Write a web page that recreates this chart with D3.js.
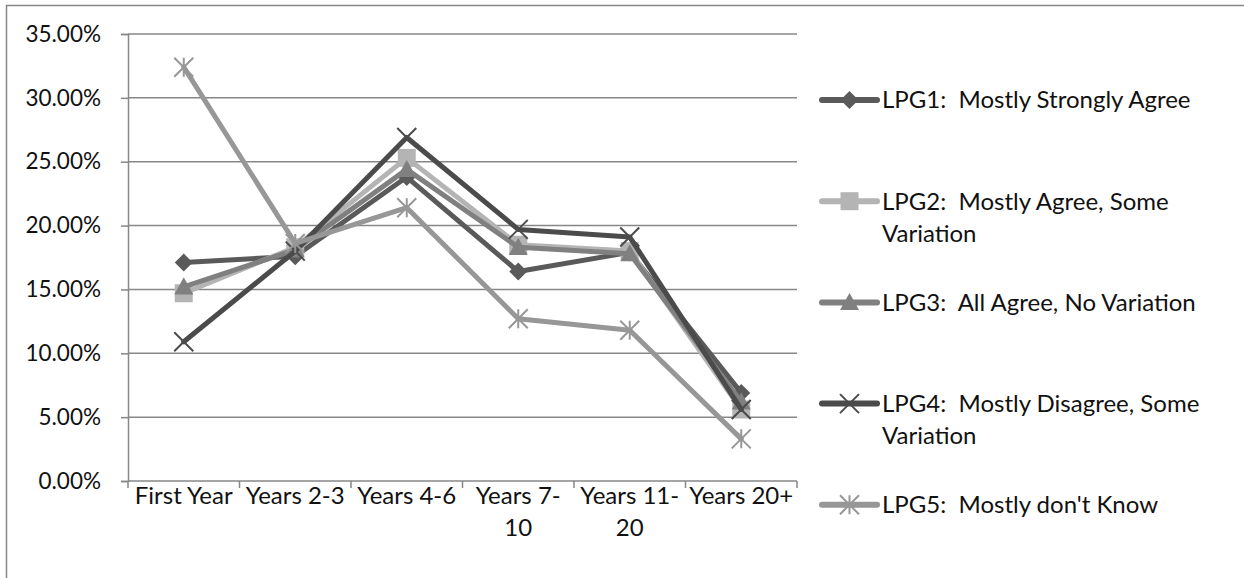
<!DOCTYPE html>
<html>
<head>
<meta charset="utf-8">
<script src="https://cdn.jsdelivr.net/npm/d3@7"></script>
<style>
  html, body { margin: 0; padding: 0; background: #fff; }
  svg { display: block; }
  text { font-family: Lato, "Open Sans", sans-serif; fill: #111; white-space: pre; }
</style>
</head>
<body>
<svg id="chart" width="1244" height="578"></svg>
<script>
// Share of respondents by years of experience, per LPG group
const categories = ["First Year", "Years 2-3", "Years 4-6", "Years 7-10", "Years 11-20", "Years 20+"];
const categoryLines = [["First Year"], ["Years 2-3"], ["Years 4-6"], ["Years 7-", "10"], ["Years 11-", "20"], ["Years 20+"]];

const seriesNames = [
  "LPG1:  Mostly Strongly Agree",
  "LPG2:  Mostly Agree, Some Variation",
  "LPG3:  All Agree, No Variation",
  "LPG4:  Mostly Disagree, Some Variation",
  "LPG5:  Mostly don't Know"
];
const legendLines = [
  ["LPG1:  Mostly Strongly Agree"],
  ["LPG2:  Mostly Agree, Some", "Variation"],
  ["LPG3:  All Agree, No Variation"],
  ["LPG4:  Mostly Disagree, Some", "Variation"],
  ["LPG5:  Mostly don't Know"]
];

const lpg1 = [17.1, 17.6, 23.8, 16.4, 17.9, 6.9];
const lpg2 = [14.7, 18.3, 25.3, 18.5, 18.0, 5.6];
const lpg3 = [15.2, 18.1, 24.4, 18.3, 17.8, 6.2];
const lpg4 = [10.9, 18.0, 26.9, 19.7, 19.1, 5.6];
const lpg5 = [32.4, 18.6, 21.4, 12.7, 11.8, 3.3];

const yTicks = [0, 5, 10, 15, 20, 25, 30, 35];

const seriesValues = [lpg1, lpg2, lpg3, lpg4, lpg5];
const colors = ["#5a5a5a", "#b4b4b4", "#808080", "#4b4b4b", "#979797"];
const markers = ["diamond", "square", "triangle", "x", "star"];

const svg = d3.select("#chart");
const W = 1244, H = 578;
const plot = { left: 128, top: 34, right: 797, bottom: 481 };
const FONT = 24;
const TICK_FONT = 22.5;
const gridColor = "#878787";

// outer frame
svg.append("rect")
  .attr("x", 6.5).attr("y", 5.5)
  .attr("width", W + 20).attr("height", H + 20)
  .attr("fill", "none").attr("stroke", gridColor).attr("stroke-width", 1.5);

const x = d3.scaleBand().domain(categories).range([plot.left, plot.right]).padding(0);
const y = d3.scaleLinear().domain([0, 35]).range([plot.bottom, plot.top]);
const cx = c => x(c) + x.bandwidth() / 2;

// horizontal gridlines
svg.append("g").selectAll("line").data(yTicks.filter(t => t > 0)).join("line")
  .attr("x1", plot.left).attr("x2", plot.right)
  .attr("y1", d => y(d)).attr("y2", d => y(d))
  .attr("stroke", gridColor).attr("stroke-width", 1.5);

// y axis
const yAxis = svg.append("g").attr("transform", `translate(${plot.left},0)`)
  .call(d3.axisLeft(y).tickValues(yTicks).tickFormat(d => d.toFixed(2) + "%").tickSize(7).tickPadding(20));
yAxis.select(".domain").attr("stroke", gridColor).attr("stroke-width", 1.5);
yAxis.selectAll(".tick line").attr("stroke", gridColor).attr("stroke-width", 1.5);
yAxis.selectAll("text").style("font-size", TICK_FONT + "px").attr("fill", "#111");

// x axis: baseline and ticks on category boundaries
const xg = svg.append("g");
xg.append("line")
  .attr("x1", plot.left).attr("x2", plot.right)
  .attr("y1", plot.bottom).attr("y2", plot.bottom)
  .attr("stroke", gridColor).attr("stroke-width", 1.5);
const bounds = categories.map(c => x(c)).concat([x(categories[categories.length - 1]) + x.bandwidth()]);
xg.selectAll("line.tk").data(bounds).join("line").attr("class", "tk")
  .attr("x1", d => d).attr("x2", d => d)
  .attr("y1", plot.bottom).attr("y2", plot.bottom + 7)
  .attr("stroke", gridColor).attr("stroke-width", 1.5);
const labels = xg.selectAll("text.cat").data(categories).join("text").attr("class", "cat")
  .attr("x", d => cx(d)).attr("y", plot.bottom + 23)
  .attr("text-anchor", "middle").style("font-size", FONT + "px");
labels.each(function(d, i) {
  const t = d3.select(this);
  categoryLines[i].forEach((ln, j) => {
    t.append("tspan").attr("x", cx(d)).attr("dy", j === 0 ? 0 : 32).text(ln);
  });
});

// marker path generator
function markerPath(type, s) {
  const h = s / 2;
  switch (type) {
    case "diamond": return `M0,${-h}L${h},0L0,${h}L${-h},0Z`;
    case "square": return `M${-h},${-h}H${h}V${h}H${-h}Z`;
    case "triangle": return `M0,${-h}L${h},${h * 0.8}L${-h},${h * 0.8}Z`;
    case "x": return `M${-h},${-h}L${h},${h}M${h},${-h}L${-h},${h}`;
    case "star": return `M${-h},${-h}L${h},${h}M${h},${-h}L${-h},${h}M0,${-h}V${h}`;
  }
}
const markerSize = { diamond: 18, square: 18, triangle: 19, x: 19, star: 19 };

function drawMarker(g, type, color, px, py) {
  const filled = type !== "x" && type !== "star";
  g.append("path")
    .attr("d", markerPath(type, markerSize[type]))
    .attr("transform", `translate(${px},${py})`)
    .attr("fill", filled ? color : "none")
    .attr("stroke", color)
    .attr("stroke-width", filled ? 0 : 2);
}

const line = d3.line().x((d, i) => cx(categories[i])).y(d => y(d));

seriesValues.forEach((vals, si) => {
  const g = svg.append("g");
  g.append("path").datum(vals)
    .attr("d", line)
    .attr("fill", "none").attr("stroke", colors[si])
    .attr("stroke-width", 5).attr("stroke-linejoin", "round").attr("stroke-linecap", "round");
  vals.forEach((v, i) => drawMarker(g, markers[si], colors[si], cx(categories[i]), y(v)));
});

// legend
const legend = { x1: 822, x2: 877, tx: 882, top: 100, step: 101.2 };
legendLines.forEach((lines, i) => {
  const ly = legend.top + i * legend.step;
  const g = svg.append("g");
  g.append("line").attr("x1", legend.x1).attr("x2", legend.x2).attr("y1", ly).attr("y2", ly)
    .attr("stroke", colors[i]).attr("stroke-width", 6).attr("stroke-linecap", "round");
  drawMarker(g, markers[i], colors[i], (legend.x1 + legend.x2) / 2, ly);
  const t = g.append("text").attr("x", legend.tx).attr("y", ly)
    .style("font-size", FONT + "px");
  lines.forEach((ln, j) => t.append("tspan").attr("x", legend.tx).attr("dy", j === 0 ? "0.35em" : 32).text(ln));
});
</script>
</body>
</html>
